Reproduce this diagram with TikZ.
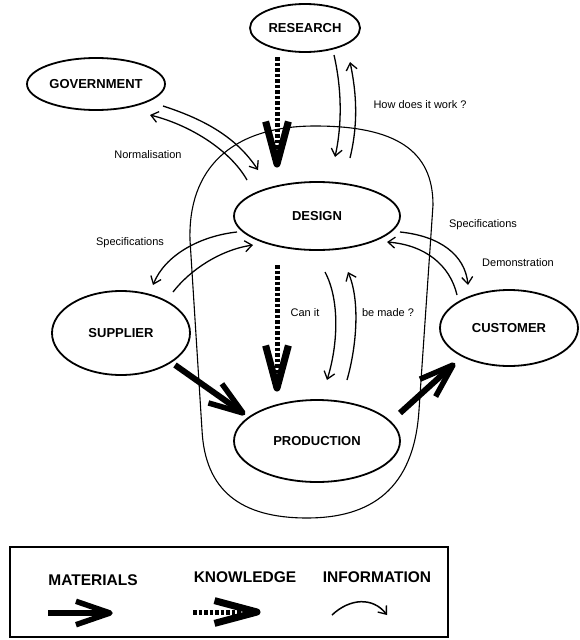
\documentclass[tikz,border=0pt]{standalone}
\usepackage{fontspec}
\setmainfont{Liberation Sans}
\usetikzlibrary{calc,shapes.geometric,arrows.meta}

\tikzset{
  blob/.style={ellipse, draw, line width=1.8pt, inner sep=0pt,
    font=\fontsize{13}{15}\selectfont\bfseries},
  boundary/.style={line width=1.1pt},
  info/.style={line width=1.3pt,
    -{Straight Barb[length=7pt,width=11pt,line width=1.3pt]}},
  lbl/.style={font=\fontsize{11}{13}\selectfont, inner sep=0pt},
  legendlbl/.style={font=\fontsize{15.5}{18}\selectfont\bfseries, inner sep=0pt},
  kshaft/.style={line width=5pt, dash pattern=on 3.5pt off 2pt},
  khead/.style={line width=7pt, line join=round},
  mshaft/.style={line width=6pt},
  mhead/.style={line width=5.5pt, line join=round},
}

% knowledge flow: dotted shaft with a wide V head
\newcommand\knowarrow[2]{%
  \draw[kshaft] (#1) -- ($(#2)!14pt!(#1)$);
  \draw[khead] ($(#2)!44pt!15:(#1)$) -- (#2) -- ($(#2)!44pt!-15:(#1)$);}
% material flow: heavy shaft with two barbs
\newcommand\matarrow[2]{%
  \draw[mshaft] (#1) -- ($(#2)!3pt!(#1)$);
  \draw[mhead] ($(#2)!36pt!19:(#1)$) -- (#2) -- ($(#2)!36pt!-19:(#1)$);}

\begin{document}
\begin{tikzpicture}[x=1pt,y=-1pt]
\useasboundingbox (0,0) rectangle (579,640);

% the firm
\draw[boundary] (190,240) .. controls (188,170) and (230,126) .. (315,126)
  .. controls (395,126) and (433,150) .. (433,205)
  -- (419,410)
  .. controls (414,490) and (370,518) .. (307,518)
  .. controls (240,518) and (205,490) .. (202,430)
  -- cycle;

% actors
\node[blob, minimum width=110pt, minimum height=48pt] (research)   at (305,28)  {RESEARCH};
\node[blob, minimum width=138pt, minimum height=52pt] (government) at (96,84)   {GOVERNMENT};
\node[blob, minimum width=166pt, minimum height=68pt] (design)     at (317,216) {DESIGN};
\node[blob, minimum width=138pt, minimum height=84pt] (supplier)   at (121,333) {SUPPLIER};
\node[blob, minimum width=138pt, minimum height=76pt] (customer)   at (509,328) {CUSTOMER};
\node[blob, minimum width=166pt, minimum height=82pt] (production) at (317,441) {PRODUCTION};

% knowledge flows
\coordinate (kRa) at ($(research)+(-28,29)$);
\coordinate (kRb) at ($(design)+(-40,-52)$);
\coordinate (kDa) at ($(design)+(-40,49)$);
\coordinate (kDb) at ($(production)+(-40,-53)$);
\knowarrow{kRa}{kRb}
\knowarrow{kDa}{kDb}

% material flows
\coordinate (mSa) at ($(supplier)+(54,32)$);
\coordinate (mSb) at ($(production)+(-74,-28)$);
\coordinate (mPa) at ($(production)+(83,-28)$);
\coordinate (mPb) at ($(customer)+(-56,37)$);
\matarrow{mSa}{mSb}
\matarrow{mPa}{mPb}

% information flows
\draw[info] ($(research)+(29,27)$) .. controls +(8,35) and +(7,-32) .. ($(design)+(18,-59)$);
\draw[info] ($(design)+(33,-58)$) .. controls +(8,-33) and +(7,33) .. ($(research)+(45,34)$);

\draw[info] ($(government)+(67,22)$) .. controls +(37,12) and +(-23,-35) .. ($(design)+(-59,-46)$);
\draw[info] ($(design)+(-70,-36)$) .. controls +(-17,-30) and +(40,10) .. ($(government)+(54,31)$);

\draw[info] ($(design)+(-80,16)$) .. controls +(-37,4) and +(12,-30) .. ($(supplier)+(32,-48)$);
\draw[info] ($(supplier)+(52,-41)$) .. controls +(17,-22) and +(-33,5) .. ($(design)+(-64,29)$);

\draw[info] ($(design)+(83,16)$) .. controls +(40,4) and +(-3,-30) .. ($(customer)+(-41,-43)$);
\draw[info] ($(customer)+(-52,-33)$) .. controls +(-7,-30) and +(38,3) .. ($(design)+(70,26)$);

\draw[info] ($(design)+(8,56)$) .. controls +(15,28) and +(11,-35) .. ($(production)+(10,-61)$);
\draw[info] ($(production)+(30,-61)$) .. controls +(10,-35) and +(12,28) .. ($(design)+(31,56)$);

% flow labels
\node[lbl] (howwork) at (420,105) {How does it work ?};
\node[lbl] (norm)    at (148,155) {Normalisation};
\node[lbl] (specS)   at (130,243) {Specifications};
\node[lbl] (specC)   at (483,225) {Specifications};
\node[lbl] (demo)    at (518,263) {Demonstration};
\node[lbl] (canit)   at (305,313) {Can it};
\node[lbl] (bemade)  at (388,313) {be made ?};

% key
\draw[line width=1.3pt] (10,547) rectangle (448,637);
\node[legendlbl] (keyM) at (93,580)  {MATERIALS};
\node[legendlbl] (keyK) at (245,577) {KNOWLEDGE};
\node[legendlbl] (keyI) at (377,577) {INFORMATION};
\coordinate (lm1) at (48,613);
\coordinate (lm2) at (110,613);
\coordinate (lk1) at (193,612);
\coordinate (lk2) at (257,612);
\coordinate (li1) at (332,615);
\coordinate (li2) at (387,615);
\matarrow{lm1}{lm2}
\knowarrow{lk1}{lk2}
\draw[info, line width=1.5pt] (li1) .. controls +(18,-17) and +(-14,-18) .. (li2);
\end{tikzpicture}
\end{document}
